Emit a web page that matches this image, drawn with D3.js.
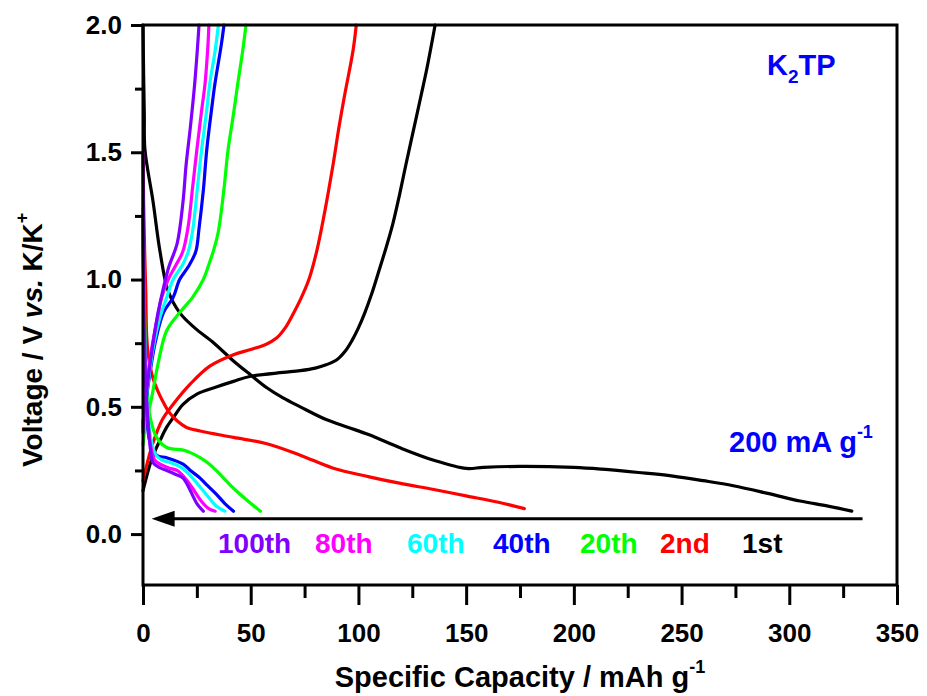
<!DOCTYPE html>
<html>
<head>
<meta charset="utf-8">
<script src="https://cdn.jsdelivr.net/npm/d3@7"></script>
<style>
  html, body { margin: 0; padding: 0; background: #fff; }
  svg text { font-family: "Liberation Sans", Arial, sans-serif; font-weight: bold; }
</style>
</head>
<body>
<svg id="chart" width="927" height="696"></svg>
<script>
// ---------------- DATA ----------------
const xTicks = [0, 50, 100, 150, 200, 250, 300, 350];
const xMinorTicks = [25, 75, 125, 175, 225, 275, 325];
const yTicks = [0.0, 0.5, 1.0, 1.5, 2.0];
const yMinorTicks = [0.25, 0.75, 1.25, 1.75];

const cycleNames = ["1st", "2nd", "20th", "40th", "60th", "80th", "100th"];
const cycleColors = ["#000000", "#ff0000", "#00ff00", "#0000ff", "#00ffff", "#ff00ff", "#8000ff"];

// [capacity (mAh/g), voltage (V)]
const dis1st = [[0,2.0],[0.3,1.8],[0.6,1.65],[0.9,1.51],[4.6,1.31],[7.9,1.11],[11.6,0.957],[17,0.87],[24,0.81],[33,0.75],[42,0.68],[50,0.625],[57.5,0.575],[65,0.535],[73,0.50],[85,0.45],[95,0.42],[105,0.39],[119,0.34],[135,0.29],[150,0.258],[158,0.262],[175,0.266],[200,0.262],[213,0.255],[230,0.242],[246,0.228],[260,0.21],[274,0.19],[290,0.16],[305,0.13],[318,0.11],[329,0.09]];
const chg1st = [[0,0.17],[1.5,0.22],[3.5,0.28],[6,0.335],[8,0.37],[11,0.42],[14,0.457],[18.6,0.51],[25,0.55],[34,0.578],[42,0.60],[50,0.62],[65,0.635],[73,0.642],[80,0.652],[85,0.665],[90,0.685],[94,0.72],[97,0.76],[100,0.81],[103,0.87],[106,0.94],[109,1.02],[113,1.13],[116,1.22],[119,1.33],[122,1.45],[125.5,1.585],[129,1.72],[131.8,1.83],[135.6,2.0]];
const dis2nd = [[0,1.5],[0.3,1.3],[0.8,1.1],[1.3,0.95],[1.7,0.78],[2.5,0.70],[4.7,0.61],[7,0.56],[9.3,0.52],[12,0.48],[15.8,0.445],[20,0.42],[26.5,0.405],[42,0.38],[57.5,0.355],[73,0.31],[88,0.26],[105,0.225],[119,0.20],[135,0.175],[150,0.15],[165,0.125],[177,0.10]];
const chg2nd = [[0,0.21],[2,0.28],[4.7,0.36],[9,0.45],[14,0.51],[22,0.59],[31,0.66],[42,0.705],[50,0.725],[57,0.745],[62,0.77],[66,0.81],[70,0.87],[73,0.92],[77,1.0],[80.6,1.11],[84,1.25],[88,1.44],[91,1.60],[93.5,1.72],[97.5,1.90],[99,2.0]];
const dis20th = [[0,1.33],[0.4,1.0],[0.9,0.8],[1.6,0.6],[3.3,0.46],[6.3,0.38],[11,0.34],[18.6,0.33],[22,0.32],[26.5,0.30],[30,0.28],[34,0.25],[38,0.215],[42,0.18],[48,0.135],[54.5,0.09]];
const chg20th = [[0,0.35],[1,0.42],[2.5,0.48],[4,0.535],[7,0.67],[11,0.80],[17,0.87],[23,0.93],[28,1.0],[31,1.07],[32.6,1.11],[35,1.19],[37.5,1.35],[39.5,1.51],[42,1.65],[44,1.77],[46.3,1.9],[47.8,2.0]];
const dis40th = [[0,1.25],[0.3,1.0],[0.7,0.8],[1.3,0.6],[2,0.45],[3,0.37],[6.3,0.31],[11,0.30],[18.6,0.275],[22,0.25],[26.5,0.22],[30,0.19],[34,0.157],[38,0.12],[42,0.09]];
const chg40th = [[0,0.44],[1,0.5],[3,0.62],[5.6,0.75],[9.5,0.87],[14,0.93],[17,1.0],[21,1.05],[24.5,1.11],[26,1.2],[28,1.35],[29.6,1.51],[32,1.68],[33.4,1.77],[36.3,1.92],[37.6,2.0]];
const dis60th = [[0,1.25],[0.3,1.0],[0.7,0.8],[1.3,0.6],[2.5,0.45],[4,0.36],[6,0.31],[9,0.29],[13,0.28],[18,0.26],[22,0.23],[26,0.19],[30,0.15],[34,0.11],[38,0.09]];
const chg60th = [[0,0.43],[0.8,0.5],[2.5,0.6],[4.5,0.72],[7.5,0.84],[11,0.93],[14,1.0],[18.5,1.06],[21,1.11],[23,1.19],[25.5,1.38],[27.2,1.51],[29.5,1.66],[31,1.77],[33.5,1.9],[35,2.0]];
const dis80th = [[0,1.28],[0.3,1.0],[0.6,0.8],[1.2,0.6],[2.2,0.45],[3.5,0.35],[5.5,0.29],[8,0.275],[12,0.26],[15.8,0.25],[19.5,0.22],[23,0.18],[27,0.13],[30.5,0.10],[33.5,0.09]];
const chg80th = [[0,0.42],[0.7,0.5],[2,0.6],[3.5,0.7],[6,0.82],[8.7,0.93],[11.7,1.0],[15.5,1.06],[18.5,1.11],[21,1.21],[23,1.36],[25,1.51],[27,1.65],[28.8,1.77],[30,1.9],[30.6,2.0]];
const dis100th = [[0,1.5],[0.15,1.2],[0.35,0.9],[0.8,0.7],[1.5,0.55],[2.5,0.42],[3.5,0.33],[4.7,0.28],[8,0.26],[11,0.25],[15,0.235],[18.6,0.22],[22,0.17],[25,0.12],[28,0.09]];
const chg100th = [[0,0.40],[0.5,0.48],[1.5,0.55],[3,0.65],[5,0.77],[7,0.87],[9.3,0.96],[12,1.05],[15.8,1.14],[18.5,1.30],[20,1.45],[22,1.6],[24,1.77],[25.2,1.9],[26,2.0]];

const curves = [
  [dis1st, chg1st], [dis2nd, chg2nd], [dis20th, chg20th], [dis40th, chg40th],
  [dis60th, chg60th], [dis80th, chg80th], [dis100th, chg100th]
];

const arrowFrom = 334, arrowTo = 4, arrowV = 0.06;

// ---------------- CHART ----------------
const svg = d3.select("#chart");
const L = 143, R = 897, T = 25, B = 585;
const x = d3.scaleLinear().domain([0, 350]).range([L, R]);
const y = d3.scaleLinear().domain([-0.2, 2.0]).range([B, T]);

const line = d3.line().x(d => x(d[0])).y(d => y(d[1])).curve(d3.curveCatmullRom.alpha(0.5));

const plot = svg.append("g");
curves.forEach((pair, i) => {
  pair.forEach(data => {
    plot.append("path").datum(data).attr("d", line)
      .attr("fill", "none").attr("stroke", cycleColors[i])
      .attr("stroke-width", 3.2).attr("stroke-linejoin", "round").attr("stroke-linecap", "round");
  });
});

// arrow
svg.append("line")
  .attr("x1", x(arrowFrom)).attr("x2", x(arrowTo) + 16)
  .attr("y1", y(arrowV)).attr("y2", y(arrowV))
  .attr("stroke", "#000").attr("stroke-width", 3);
svg.append("path")
  .attr("d", `M${x(arrowTo)},${y(arrowV)} L${x(arrowTo) + 23},${y(arrowV) - 8} L${x(arrowTo) + 23},${y(arrowV) + 8} Z`)
  .attr("fill", "#000");

// frame
svg.append("rect").attr("x", L).attr("y", T).attr("width", R - L).attr("height", B - T)
  .attr("fill", "none").attr("stroke", "#000").attr("stroke-width", 3);

// axes
const fontSize = 26;
const xAxis = svg.append("g").attr("transform", `translate(0,${B})`)
  .call(d3.axisBottom(x).tickValues(xTicks).tickSize(20).tickPadding(19).tickFormat(d3.format("d")));
const xMinor = svg.append("g").attr("transform", `translate(0,${B})`)
  .call(d3.axisBottom(x).tickValues(xMinorTicks).tickSize(13).tickFormat(""));
const yAxis = svg.append("g").attr("transform", `translate(${L},0)`)
  .call(d3.axisLeft(y).tickValues(yTicks).tickSize(12).tickPadding(9).tickFormat(d3.format(".1f")));
const yMinor = svg.append("g").attr("transform", `translate(${L},0)`)
  .call(d3.axisLeft(y).tickValues(yMinorTicks).tickSize(8).tickFormat(""));
[xAxis, xMinor, yAxis, yMinor].forEach(g => {
  g.select(".domain").remove();
  g.selectAll(".tick line").attr("stroke", "#000").attr("stroke-width", 3);
  g.selectAll(".tick text").attr("font-size", fontSize).attr("fill", "#000")
    .attr("font-family", "Liberation Sans, Arial, sans-serif").attr("font-weight", "bold");
});

// axis titles
const xt = svg.append("text").attr("x", (L + R) / 2).attr("y", 687)
  .attr("text-anchor", "middle").attr("font-size", 29).attr("fill", "#000");
xt.append("tspan").text("Specific Capacity / mAh g");
xt.append("tspan").text("-1").attr("font-size", 18).attr("dy", -14);

const yt = svg.append("text").attr("transform", "translate(42,467) rotate(-90)")
  .attr("text-anchor", "start").attr("font-size", 28).attr("fill", "#000");
yt.append("tspan").text("Voltage / V ");
yt.append("tspan").text("vs.").attr("font-style", "italic");
yt.append("tspan").text(" K/K");
yt.append("tspan").text("+").attr("font-size", 18).attr("dy", -14);

// annotations
const k2 = svg.append("text").attr("x", 767).attr("y", 75).attr("font-size", 29).attr("fill", "#0000ff");
k2.append("tspan").text("K");
k2.append("tspan").text("2").attr("font-size", 19).attr("dy", 8);
k2.append("tspan").text("TP").attr("dy", -8);

const cur = svg.append("text").attr("x", 729).attr("y", 452).attr("font-size", 29).attr("fill", "#0000ff");
cur.append("tspan").text("200 mA g");
cur.append("tspan").text("-1").attr("font-size", 18).attr("dy", -14);

// cycle labels
const labelX = [742, 660, 580, 493, 407, 315, 218];
svg.append("g").selectAll("text").data(cycleNames).join("text")
  .attr("x", (d, i) => labelX[i]).attr("y", 553)
  .attr("font-size", 28).attr("fill", (d, i) => cycleColors[i])
  .text(d => d);
</script>
</body>
</html>
